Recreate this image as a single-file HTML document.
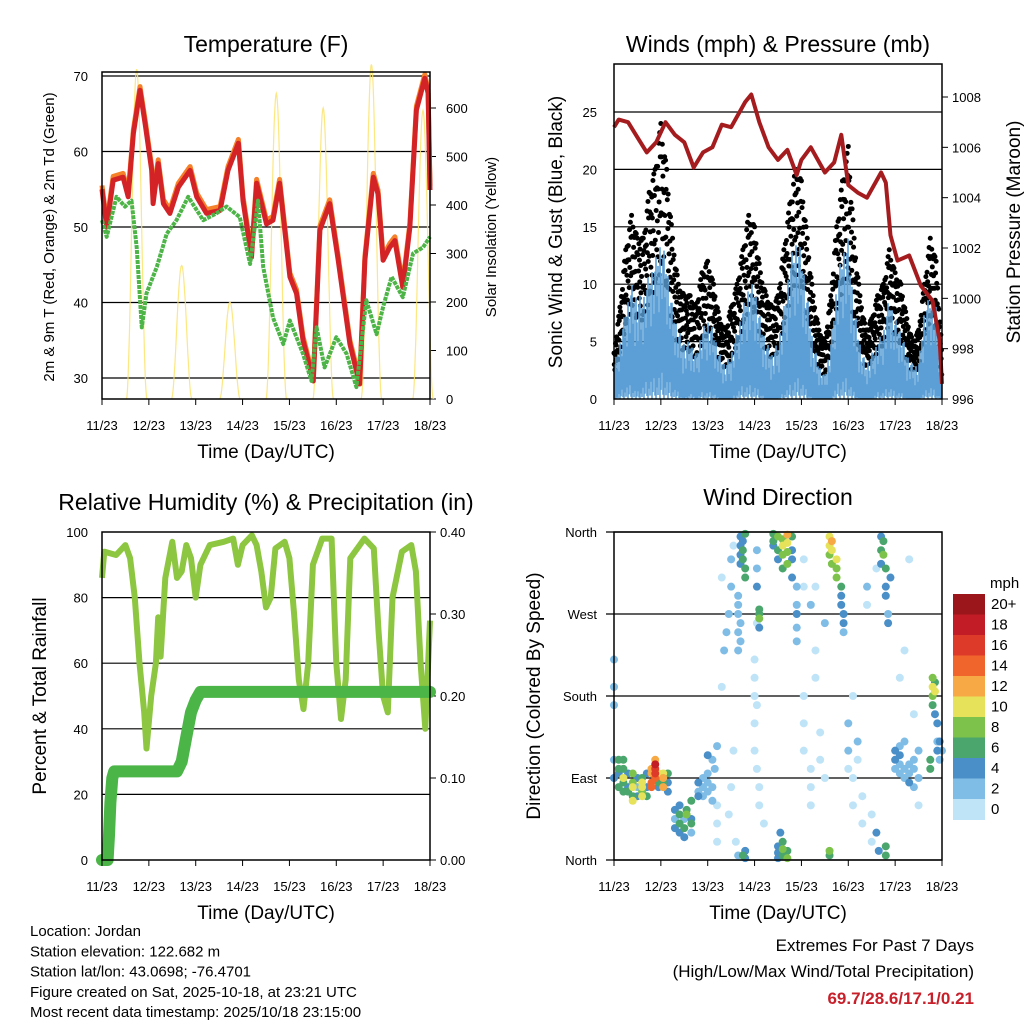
<!DOCTYPE html>
<html><head><meta charset="utf-8"><style>
html,body{margin:0;padding:0;background:#fff;}
svg{display:block;font-family:"Liberation Sans",Arial,sans-serif;}
</style></head><body>
<svg id="root" width="1024" height="1024" viewBox="0 0 1024 1024" xmlns="http://www.w3.org/2000/svg"></svg>
<script>
// ---------- DATA ----------
const dayLabels = ["11/23","12/23","13/23","14/23","15/23","16/23","17/23","18/23"];
const tempT = [0,0.1,0.24,0.45,0.56,0.67,0.81,0.92,1.06,1.09,1.2,1.31,1.45,1.63,1.88,2.02,2.23,2.52,2.69,2.91,3.01,3.19,3.3,3.51,3.65,3.79,4.01,4.15,4.29,4.51,4.65,4.86,5.04,5.29,5.5,5.61,5.79,5.89,6.0,6.14,6.25,6.42,6.57,6.71,6.89,6.96,7.0];
const tempV = [55,50,56.2,56.6,54,62.4,68.1,63.7,57.5,53.1,58.4,53.1,51.8,55.3,57.5,54,51.8,52.2,57.5,61.1,53.5,46,55.8,50.4,50.9,55.8,43.4,41.2,35,29.6,49.6,53.1,45.6,34.5,29.2,45.6,56.6,54.4,45.6,47.3,48.2,42,50,65.5,69.7,67.7,54.9];
const dewT = [0,0.1,0.31,0.49,0.63,0.74,0.85,0.95,1.17,1.38,1.59,1.84,2.16,2.44,2.66,2.94,3.16,3.33,3.44,3.65,3.87,4.01,4.29,4.47,4.58,4.75,5.0,5.22,5.43,5.64,5.86,6.0,6.18,6.42,6.64,6.85,7.0];
const dewV = [50.9,48.7,54,52.7,53.5,47.3,36.7,41.2,44.7,49.1,50.9,54,50.9,51.8,52.7,51.3,45.1,53.5,44.7,38,34.5,37.6,33.2,29.6,36.7,31.4,35.4,33.2,28.8,40.3,35.8,39.4,43.4,40.7,46.5,47.3,48.7];
const solarPeak = [680,275,200,630,600,690,595];
const solarCenter = [0.74,0.7,0.73,0.72,0.72,0.75,0.85];
const windT = [];
const windHi = [3,5,8,10,9,9,11,12, 14,12,8,6,5,5,4,6, 7,6,4,3,4,6,8,10, 10,7,5,4,5,8,12,14, 13,9,5,3,2,5,10,13, 14,8,5,3,4,5,6,9, 7,6,4,3,3,8,9,8, 2];
const windLo = [0,1,2,2,1,2,3,3, 4,3,2,1,0,1,0,1, 1,1,0,0,0,1,2,2, 2,1,0,0,0,1,2,3, 3,1,0,0,0,0,2,3, 3,1,0,0,0,1,1,2, 1,1,0,0,0,1,2,1, 0];
const gustV = [4,8,13,16,14,14,18,20, 24,20,14,10,9,9,8,11, 12,10,7,6,8,10,13,16, 15,11,9,8,9,13,17,20, 19,14,9,6,5,9,15,19, 22,14,9,6,7,9,10,13, 11,10,7,5,6,10,14,12, 4];
for (let i=0;i<windHi.length;i++) windT.push(i/8);
const presT = [0,0.1,0.3,0.5,0.7,0.9,1.1,1.3,1.5,1.7,1.9,2.1,2.3,2.5,2.8,2.93,3.1,3.3,3.5,3.7,3.9,4.0,4.2,4.5,4.7,4.85,5.0,5.2,5.4,5.7,5.8,5.9,6.05,6.3,6.55,6.8,6.95,7.0];
const presV = [1006.8,1007.1,1007.0,1006.4,1005.8,1006.2,1007.0,1006.5,1006.2,1005.2,1005.8,1006.0,1006.9,1006.8,1007.8,1008.1,1007.0,1006.0,1005.5,1005.9,1004.9,1005.5,1006.0,1005.0,1005.4,1006.5,1004.5,1004.2,1004.0,1005.0,1004.6,1002.5,1001.5,1001.7,1000.5,999.9,998.3,996.6];
const rhT = [0,0.05,0.3,0.5,0.6,0.7,0.8,0.9,0.95,1.05,1.15,1.2,1.25,1.35,1.5,1.6,1.7,1.8,1.9,2.0,2.1,2.3,2.6,2.8,2.9,3.0,3.2,3.3,3.4,3.5,3.6,3.7,3.9,4.0,4.1,4.2,4.3,4.4,4.5,4.7,4.9,5.0,5.1,5.2,5.3,5.6,5.8,5.9,6.0,6.1,6.2,6.4,6.6,6.7,6.8,6.9,7.0];
const rhV = [86,94,93,96,92,80,60,45,34,50,60,74,62,86,97,86,88,96,92,80,90,96,97,98,90,96,99,96,88,77,80,95,97,92,75,55,46,60,90,98,98,60,43,55,92,98,95,70,50,45,80,94,96,88,60,40,73];
const rainT = [0,0.12,0.15,0.18,0.22,0.26,1.6,1.7,1.8,1.9,2.0,2.1,7.0];
const rainV = [0,0,0.03,0.07,0.10,0.108,0.108,0.12,0.15,0.18,0.195,0.205,0.205];
const dirT = [0,0,0,0,0, 0.1,0.1,0.1,0.1, 0.2,0.2,0.2,0.2,0.2, 0.3,0.3,0.3, 0.4,0.4,0.4,0.4,0.4, 0.5,0.5,0.5, 0.6,0.6,0.6,0.6,0.6, 0.7,0.7,0.7, 0.8,0.8,0.8,0.8, 0.88,0.88,0.88,0.88,0.88, 0.95,0.95,0.95, 1.05,1.05,1.05,1.05, 1.15,1.15,1.15,
1.3,1.3,1.3,1.4,1.4,1.4,1.4,1.5,1.5,1.5,1.55,1.55,1.65,1.65,1.65,1.65,
1.8,1.8,1.8,1.9,1.9,1.9,2.0,2.0,2.0,2.1,2.1,2.15,2.2,2.2,2.2,2.0,2.1,2.2,
2.3,2.35,2.4,2.45,2.5,2.5,2.55,2.3,2.55,2.5,2.45,2.6,2.65,
2.7,2.7,2.7,2.7,2.75,2.75,2.75,2.8,2.8,2.8,2.65,2.65,2.65,2.65,2.65,2.7,2.7,2.75,2.8,2.8,
3.0,3.0,3.0,3.0,3.0,3.05,3.05,3.05,3.1,3.1,3.2,3.1,3.1,3.1,3.1,3.05,3.05,3.05,
3.4,3.4,3.4,3.5,3.5,3.5,3.6,3.6,3.6,3.6,3.7,3.7,3.7,3.7,3.8,3.8,3.8,3.8,3.9,3.9,3.9,3.9,3.9,
3.5,3.5,3.5,3.6,3.6,3.6,3.7,3.7,3.55,
4.05,4.05,4.05,4.05,4.05,4.2,4.2,4.2,4.3,4.3,4.4,4.4,4.5,4.5,4.2,4.3,
4.6,4.6,4.6,4.65,4.65,4.65,4.75,4.75,4.75,4.85,4.85,4.85,4.9,4.9,4.9,4.6,4.6,
5.0,5.0,5.0,5.1,5.1,5.1,5.2,5.2,5.3,5.3,5.4,5.4,5.5,5.5,5.6,5.6,5.65,
5.7,5.7,5.7,5.75,5.75,5.8,5.8,5.8,5.85,5.85,5.9,5.8,5.8,
6.0,6.0,6.0,6.1,6.1,6.1,6.1,6.2,6.2,6.2,6.3,6.3,6.3,6.4,6.4,6.4,6.5,6.5,6.1,6.2,6.3,6.4,6.5,
6.75,6.75,6.8,6.8,6.8,6.8,6.85,6.85,6.85,6.9,6.9,6.9,6.95,6.95,7.0];
const dirD = [170,190,220,110,90, 95,80,100,110, 90,100,85,110,75, 75,95,80, 70,85,95,65,80, 80,90,70, 75,85,80,70,90, 95,80,70, 85,95,100,80, 105,100,95,90,110, 85,95,80, 80,90,95,85, 85,75,95,
55,45,35,50,40,30,60,45,35,25,55,50,65,45,40,30,
85,75,70,90,80,70,85,75,95,65,80,100,60,40,20,115,110,125,
190,230,250,270,300,330,345,310,120,80,50,20,5,
355,345,335,325,350,340,330,358,320,310,290,280,270,250,230,260,240,5,2,10,
220,200,180,150,120,260,170,100,80,60,40,270,265,275,255,300,320,340,
358,350,345,355,340,330,352,345,335,320,357,348,338,325,355,340,330,310,300,280,270,255,240,
2,8,15,5,12,20,2,10,30,
330,300,180,150,120,100,80,60,200,230,140,110,90,260,280,300,
355,345,335,350,340,325,330,320,310,300,290,280,270,260,250,5,10,
150,120,100,180,90,60,130,110,70,40,300,280,20,50,320,30,10,
355,340,325,350,335,320,300,290,270,260,310,5,15,
100,110,120,95,105,115,125,90,100,130,85,95,105,80,100,110,90,120,200,230,330,160,60,
110,100,170,180,190,200,185,195,160,150,130,120,130,110,120];
const dirS = [2,2,2,2,4, 4,6,6,6, 10,6,6,6,6, 6,4,4, 6,8,8,10,10, 2,4,4, 8,10,10,10,6, 4,4,6, 14,12,12,14, 18,16,16,14,12, 6,10,4, 12,12,10,6, 4,4,6,
4,2,4,6,6,4,4,2,6,4,6,8,6,4,6,2,
4,2,4,2,2,2,2,2,2,2,2,2,0,0,0,4,2,2,
0,2,2,2,2,2,0,0,0,0,0,0,2,
4,4,4,4,4,6,6,6,6,6,2,2,2,2,2,2,2,6,4,4,
0,0,0,0,0,0,0,0,0,0,0,6,8,6,4,4,2,2,
6,6,4,8,6,4,8,10,8,6,12,10,8,8,6,4,4,4,2,2,4,2,2,
4,4,4,6,8,6,8,6,4,
0,0,0,0,0,0,0,0,0,0,0,0,0,2,2,0,
10,10,8,12,10,8,10,8,8,6,4,4,4,4,2,6,8,
2,2,0,0,0,0,2,0,0,0,2,0,0,0,0,4,4,
4,6,4,6,8,6,4,4,2,4,4,6,6,
2,4,4,2,2,4,2,2,2,2,4,2,2,2,2,2,2,2,0,0,0,0,0,
6,6,6,8,10,8,10,6,4,4,2,4,4,2,2];
const speedColors = ["#bfe4f8","#80bde6","#4a8fc7","#4aa66c","#7dc24a","#e6e25a","#f7a945","#f0652b","#de3a2a","#c21c26","#9a161b"];
const speedLabels = ["0","2","4","6","8","10","12","14","16","18","20+"];

// ---------- HELPERS ----------
const NS="http://www.w3.org/2000/svg";
const root=document.getElementById('root');
function el(tag, attrs, parent){const e=document.createElementNS(NS,tag);for(const k in attrs)e.setAttribute(k,attrs[k]);(parent||root).appendChild(e);return e;}
function txt(s, x, y, size, anchor, parent, extra){const t=el('text',Object.assign({x:x,y:y,'font-size':size,'text-anchor':anchor||'middle',fill:'#000'},extra||{}),parent);t.textContent=s;return t;}
function lin(d0,d1,p0,p1){return v=>p0+(v-d0)/(d1-d0)*(p1-p0);}
function pathOf(xs,ys,fx,fy){return xs.map((x,i)=>(i?'L':'M')+fx(x).toFixed(1)+','+fy(ys[i]).toFixed(1)).join(' ');}
function interp(ts,vs,t){for(let i=0;i<ts.length-1;i++){if(t<=ts[i+1]){const f=(t-ts[i])/(ts[i+1]-ts[i]);return vs[i]+(vs[i+1]-vs[i])*f;}}return vs[vs.length-1];}

function frame(g, L, T, R, B){
  el('rect',{x:L,y:T,width:R-L,height:B-T,fill:'none',stroke:'#000','stroke-width':1.5},g);
}
function xAxis(g, L, R, B){
  const fx=lin(0,7,L,R);
  for(let i=0;i<8;i++){
    const x=fx(i);
    el('line',{x1:x,y1:B,x2:x,y2:B+6,stroke:'#000','stroke-width':1},g);
    const t=txt(dayLabels[i],x,B+31,13,'middle',g);
    
    
  }
  const ttl=txt('Time (Day/UTC)',(L+R)/2,B+59,19,'middle',g);
  
  
  return fx;
}

// ================= PANEL 1 =================
{
const g=el('g',{});


const L=102,R=430,T=72,B=399;
const fx=lin(0,7,L,R), fy=lin(30,70,378,76), fs=lin(0,600,399,108);
[30,40,50,60,70].forEach(v=>{
  el('line',{x1:L,x2:R,y1:fy(v),y2:fy(v),stroke:'#000','stroke-width':1.2},g);
  const t=txt(String(v),L-14,fy(v)+5,13,'end',g);
  
  
});
[0,100,200,300,400,500,600].forEach(v=>{
  el('line',{x1:R,x2:R+6,y1:fs(v),y2:fs(v),stroke:'#000'},g);
  const t=txt(String(v),R+16,fs(v)+5,13,'start',g);
  
  
});
let sd='';
for(let d=0;d<7;d++){
  const c=d+solarCenter[d], hw=0.22;
  let pts=[];
  for(let k=0;k<=40;k++){const t=c-hw+2*hw*k/40;const v=solarPeak[d]*Math.pow(Math.cos((t-c)/hw*Math.PI/2),2);pts.push(fx(t).toFixed(1)+','+fs(v).toFixed(1));}
  sd+='M'+pts.join(' L');
}
const sp=el('path',{d:sd,fill:'none',stroke:'#fbe36a','stroke-width':1.2,opacity:0.85},g);


const orange=el('path',{d:pathOf(tempT,tempV.map(v=>v+0.5),fx,fy),fill:'none',stroke:'#f5812a','stroke-width':5,'stroke-linejoin':'round'},g);


const red=el('path',{d:pathOf(tempT,tempV,fx,fy),fill:'none',stroke:'#d42326','stroke-width':5,'stroke-linejoin':'round'},g);


const green=el('path',{d:pathOf(dewT,dewV,fx,fy),fill:'none',stroke:'#4db448','stroke-width':4,'stroke-dasharray':'4 1','stroke-linejoin':'round'},g);


frame(g,L,T,R,B);
xAxis(g,L,R,B);
const ti=txt('Temperature (F)',266,52,23,'middle',g);


const yl=txt('2m & 9m T (Red, Orange) & 2m Td (Green)',0,0,15,'middle',g,{transform:'translate(54,237) rotate(-90)'});


const yr=txt('Solar Insolation (Yellow)',0,0,15,'middle',g,{transform:'translate(496,237) rotate(-90)'});


}

// ================= PANEL 2 =================
{
const g=el('g',{});


const L=614,R=942,T=64,B=399;
const fx=lin(0,7,L,R), fy=lin(0,25,399,112), fp=lin(996,1008,399,97);
[0,5,10,15,20,25].forEach(v=>{
  if(v>0)el('line',{x1:L,x2:R,y1:fy(v),y2:fy(v),stroke:'#000','stroke-width':1.2},g);
  const t=txt(String(v),L-17,fy(v)+5,13,'end',g);
  
  
});
[996,998,1000,1002,1004,1006,1008].forEach(v=>{
  el('line',{x1:R,x2:R+6,y1:fp(v),y2:fp(v),stroke:'#000'},g);
  const t=txt(String(v),R+10,fp(v)+5,13,'start',g);
  
  
});
const pat=[1,0.55,0.85,0.3,0.7,0.95,0.45,0.8,0.6,0.9,0.38,0.75,0.5,0.98,0.65,0.25];
const gg=el('g',{fill:'#000'},g);


const N=20;
for(let i=0;i<windT.length-1;i++){
  for(let k=0;k<N;k++){
    const f=k/N;
    const hi=windHi[i]+(windHi[i+1]-windHi[i])*f, gu=gustV[i]+(gustV[i+1]-gustV[i])*f;
    const v=hi*0.5+(gu-hi*0.5)*pat[k%16];
    const c=el('circle',{cx:fx(windT[i]+f/8),cy:fy(v),r:2.5},gg);
    
    
  }
}
// blue spiky wind as vertical strokes
const bp=[1,0.6,0.85,0.4,0.95,0.7,0.5,0.9];
const bl=[0,0.3,0.1,0.5,0,0.2,0.6,0.1];
let bd='';
for(let x=L+1;x<R;x+=1){
  const t=(x-L)/(R-L)*7;
  const hi=interp(windT,windHi,t), lo=interp(windT,windLo,t);
  const top=lo+(hi-lo)*bp[x%8], bot=lo*bl[x%8];
  bd+='M'+x+','+fy(bot).toFixed(1)+'L'+x+','+fy(top).toFixed(1);
}
const band=el('path',{d:bd,fill:'none',stroke:'#5b9fd6','stroke-width':1.6},g);


const pr=el('path',{d:pathOf(presT,presV,fx,fp),fill:'none',stroke:'#a51c1f','stroke-width':4,'stroke-linejoin':'round'},g);


frame(g,L,T,R,B);
xAxis(g,L,R,B);
const ti=txt('Winds (mph) & Pressure (mb)',778,52,23,'middle',g);


const yl=txt('Sonic Wind & Gust (Blue, Black)',0,0,19,'middle',g,{transform:'translate(562,232) rotate(-90)'});


const yr=txt('Station Pressure (Maroon)',0,0,19,'middle',g,{transform:'translate(1020,232) rotate(-90)'});


}

// ================= PANEL 3 =================
{
const g=el('g',{});


const L=102,R=430,T=532,B=860;
const fx=lin(0,7,L,R), fy=lin(0,100,860,532), fr=lin(0,0.4,860,532);
[0,20,40,60,80,100].forEach(v=>{
  if(v>0&&v<100)el('line',{x1:L,x2:R,y1:fy(v),y2:fy(v),stroke:'#000','stroke-width':1.2},g);
  const t=txt(String(v),L-14,fy(v)+5,13,'end',g);
  
  
});
[0,0.1,0.2,0.3,0.4].forEach(v=>{
  el('line',{x1:R,x2:R+6,y1:fr(v),y2:fr(v),stroke:'#000'},g);
  const t=txt(v.toFixed(2),R+10,fr(v)+5,13,'start',g);
  
  
});
const rh=el('path',{d:pathOf(rhT,rhV,fx,fy),fill:'none',stroke:'#8dc640','stroke-width':6,'stroke-linejoin':'round'},g);


const rn=el('path',{d:pathOf(rainT,rainV,fx,fr),fill:'none',stroke:'#4bb548','stroke-width':12,'stroke-linejoin':'round','stroke-linecap':'round'},g);


frame(g,L,T,R,B);
xAxis(g,L,R,B);
const ti=txt('Relative Humidity (%) & Precipitation (in)',266,510,23,'middle',g);


const yl=txt('Percent & Total Rainfall',0,0,19,'middle',g,{transform:'translate(46,696) rotate(-90)'});


}

// ================= PANEL 4 =================
{
const g=el('g',{});


const L=614,R=942,T=532,B=860;
const fx=lin(0,7,L,R), fy=lin(0,360,860,532);
const names=['North','East','South','West','North'];
[0,90,180,270,360].forEach((v,i)=>{
  el('line',{x1:L-8,x2:R,y1:fy(v),y2:fy(v),stroke:'#000','stroke-width':1.2},g);
  const t=txt(names[i],L-17,fy(v)+5,13,'end',g);
  
  
});
const dg=el('g',{},g);


const order=dirS.map((s,i)=>i).sort((a,b)=>dirS[a]-dirS[b]);
order.forEach(i=>{
  const ci=Math.min(10,Math.round(dirS[i]/2));
  const c=el('circle',{cx:fx(dirT[i]),cy:fy(dirD[i]),r:4,fill:speedColors[ci]},dg);
  
  
});
frame(g,L,T,R,B);
xAxis(g,L,R,B);
const ti=txt('Wind Direction',778,505,23,'middle',g);


const yl=txt('Direction (Colored By Speed)',0,0,19,'middle',g,{transform:'translate(540,696) rotate(-90)'});


const cb=el('g',{},g);


const h=20.5, y0=594;
for(let i=0;i<11;i++){
  const idx=10-i;
  const r=el('rect',{x:953,y:y0+i*h,width:32,height:h+0.5,fill:speedColors[idx]},cb);
  
  
  const t=txt(speedLabels[idx],991,y0+i*h+15,15,'start',cb);
  
  
}
const u=txt('mph',990,588,15,'start',cb);


}

// ================= FOOTER =================
{
const g=el('g',{});


const lines=['Location: Jordan','Station elevation: 122.682 m','Station lat/lon: 43.0698; -76.4701','Figure created on Sat, 2025-10-18, at 23:21 UTC','Most recent data timestamp: 2025/10/18 23:15:00'];
lines.forEach((s,i)=>{
  const t=txt(s,30,936+i*20.3,15,'start',g);
  
  
});
const e1=txt('Extremes For Past 7 Days',974,951,17,'end',g);


const e2=txt('(High/Low/Max Wind/Total Precipitation)',974,977,17,'end',g);


const e3=txt('69.7/28.6/17.1/0.21',974,1004,17,'end',g,{fill:'#c8202b','font-weight':'bold'});


}
</script>
</body></html>
